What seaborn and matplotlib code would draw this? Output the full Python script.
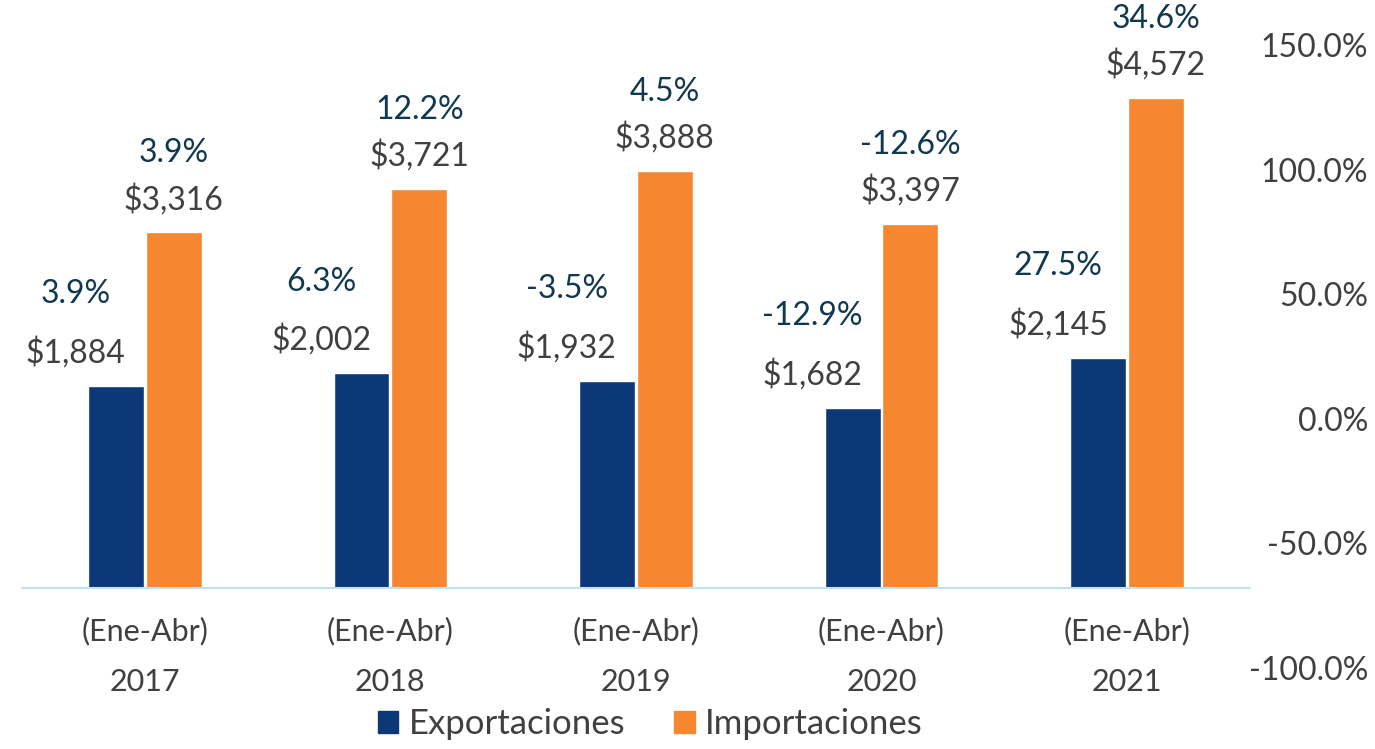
import pandas as pd
import matplotlib.pyplot as plt
import matplotlib.patches as mpatches
import seaborn as sns

# data
periodos = ['(Ene-Abr)\n2017', '(Ene-Abr)\n2018', '(Ene-Abr)\n2019', '(Ene-Abr)\n2020', '(Ene-Abr)\n2021']
exportaciones = [1884, 2002, 1932, 1682, 2145]
importaciones = [3316, 3721, 3888, 3397, 4572]
var_exp = [3.9, 6.3, -3.5, -12.9, 27.5]
var_imp = [3.9, 12.2, 4.5, -12.6, 34.6]

series = ['Exportaciones', 'Importaciones']
colores = ['#0D3877', '#F6862F']

df = pd.DataFrame({
    'periodo': periodos * 2,
    'serie': [series[0]] * 5 + [series[1]] * 5,
    'valor': exportaciones + importaciones,
})

sns.set_style('white')
plt.rcParams['font.family'] = ['Lato', 'DejaVu Sans']

gris = '#404040'
azul_txt = '#10384F'

fig = plt.figure(figsize=(13.75, 7.49), dpi=100)

# percentage scale on the right (its own axes, spans lower than the bars)
ax2 = fig.add_axes([0.016, 0.108, 0.893, 0.832])
ax2.set_ylim(-100, 150)
ax2.set_yticks([-100, -50, 0, 50, 100, 150])
ax2.set_yticklabels([f'{v:.1f}%' for v in [-100, -50, 0, 50, 100, 150]])
ax2.yaxis.tick_right()
ax2.tick_params(axis='y', length=0, pad=85, labelsize=23, labelcolor=gris)
for lbl in ax2.get_yticklabels():
    lbl.set_horizontalalignment('right')
ax2.set_xticks([])
for s in ax2.spines.values():
    s.set_visible(False)
ax2.patch.set_alpha(0)

# bars, baseline at the category axis
ax = fig.add_axes([0.016, 0.215, 0.893, 0.725])
sns.barplot(data=df, x='periodo', y='valor', hue='serie', palette=colores,
            width=0.47, gap=0.03, ax=ax, legend=False, saturation=1)

ax.set_xlim(-0.5, 4.5)
ax.set_ylim(0, 5065)
ax.axhline(0, color='#BFE2EE', lw=1.5, clip_on=False)
for s in ax.spines.values():
    s.set_visible(False)
ax.patch.set_alpha(0)
ax.set_yticks([])
ax.set_xlabel('')
ax.set_ylabel('')
ax.tick_params(axis='x', length=0, pad=21, labelsize=22, labelcolor=gris)
for lbl in ax.get_xticklabels():
    lbl.set_linespacing(1.95)

offsets = [(-29, 66), (0, 57)]
for cont, pcts, (dx, dy) in zip(ax.containers, [var_exp, var_imp], offsets):
    for bar, pct in zip(cont, pcts):
        x = bar.get_x() + bar.get_width() / 2
        h = bar.get_height()
        ax.annotate(f'${h:,.0f}', (x, h), xytext=(dx, 24), textcoords='offset points',
                    ha='center', va='center', fontsize=23, color=gris, annotation_clip=False)
        ax.annotate(f'{pct:.1f}%', (x, h), xytext=(dx, dy), textcoords='offset points',
                    ha='center', va='center', fontsize=23, color=azul_txt, annotation_clip=False)

handles = [mpatches.Patch(color=c, label=s) for c, s in zip(colores, series)]
fig.legend(handles=handles, loc='lower center', bbox_to_anchor=(0.473, -0.03), ncol=2,
           frameon=False, fontsize=25, handlelength=0.6, handleheight=0.6,
           handletextpad=0.3, columnspacing=1.4, labelcolor=gris)

plt.savefig('out.png', dpi=100)
